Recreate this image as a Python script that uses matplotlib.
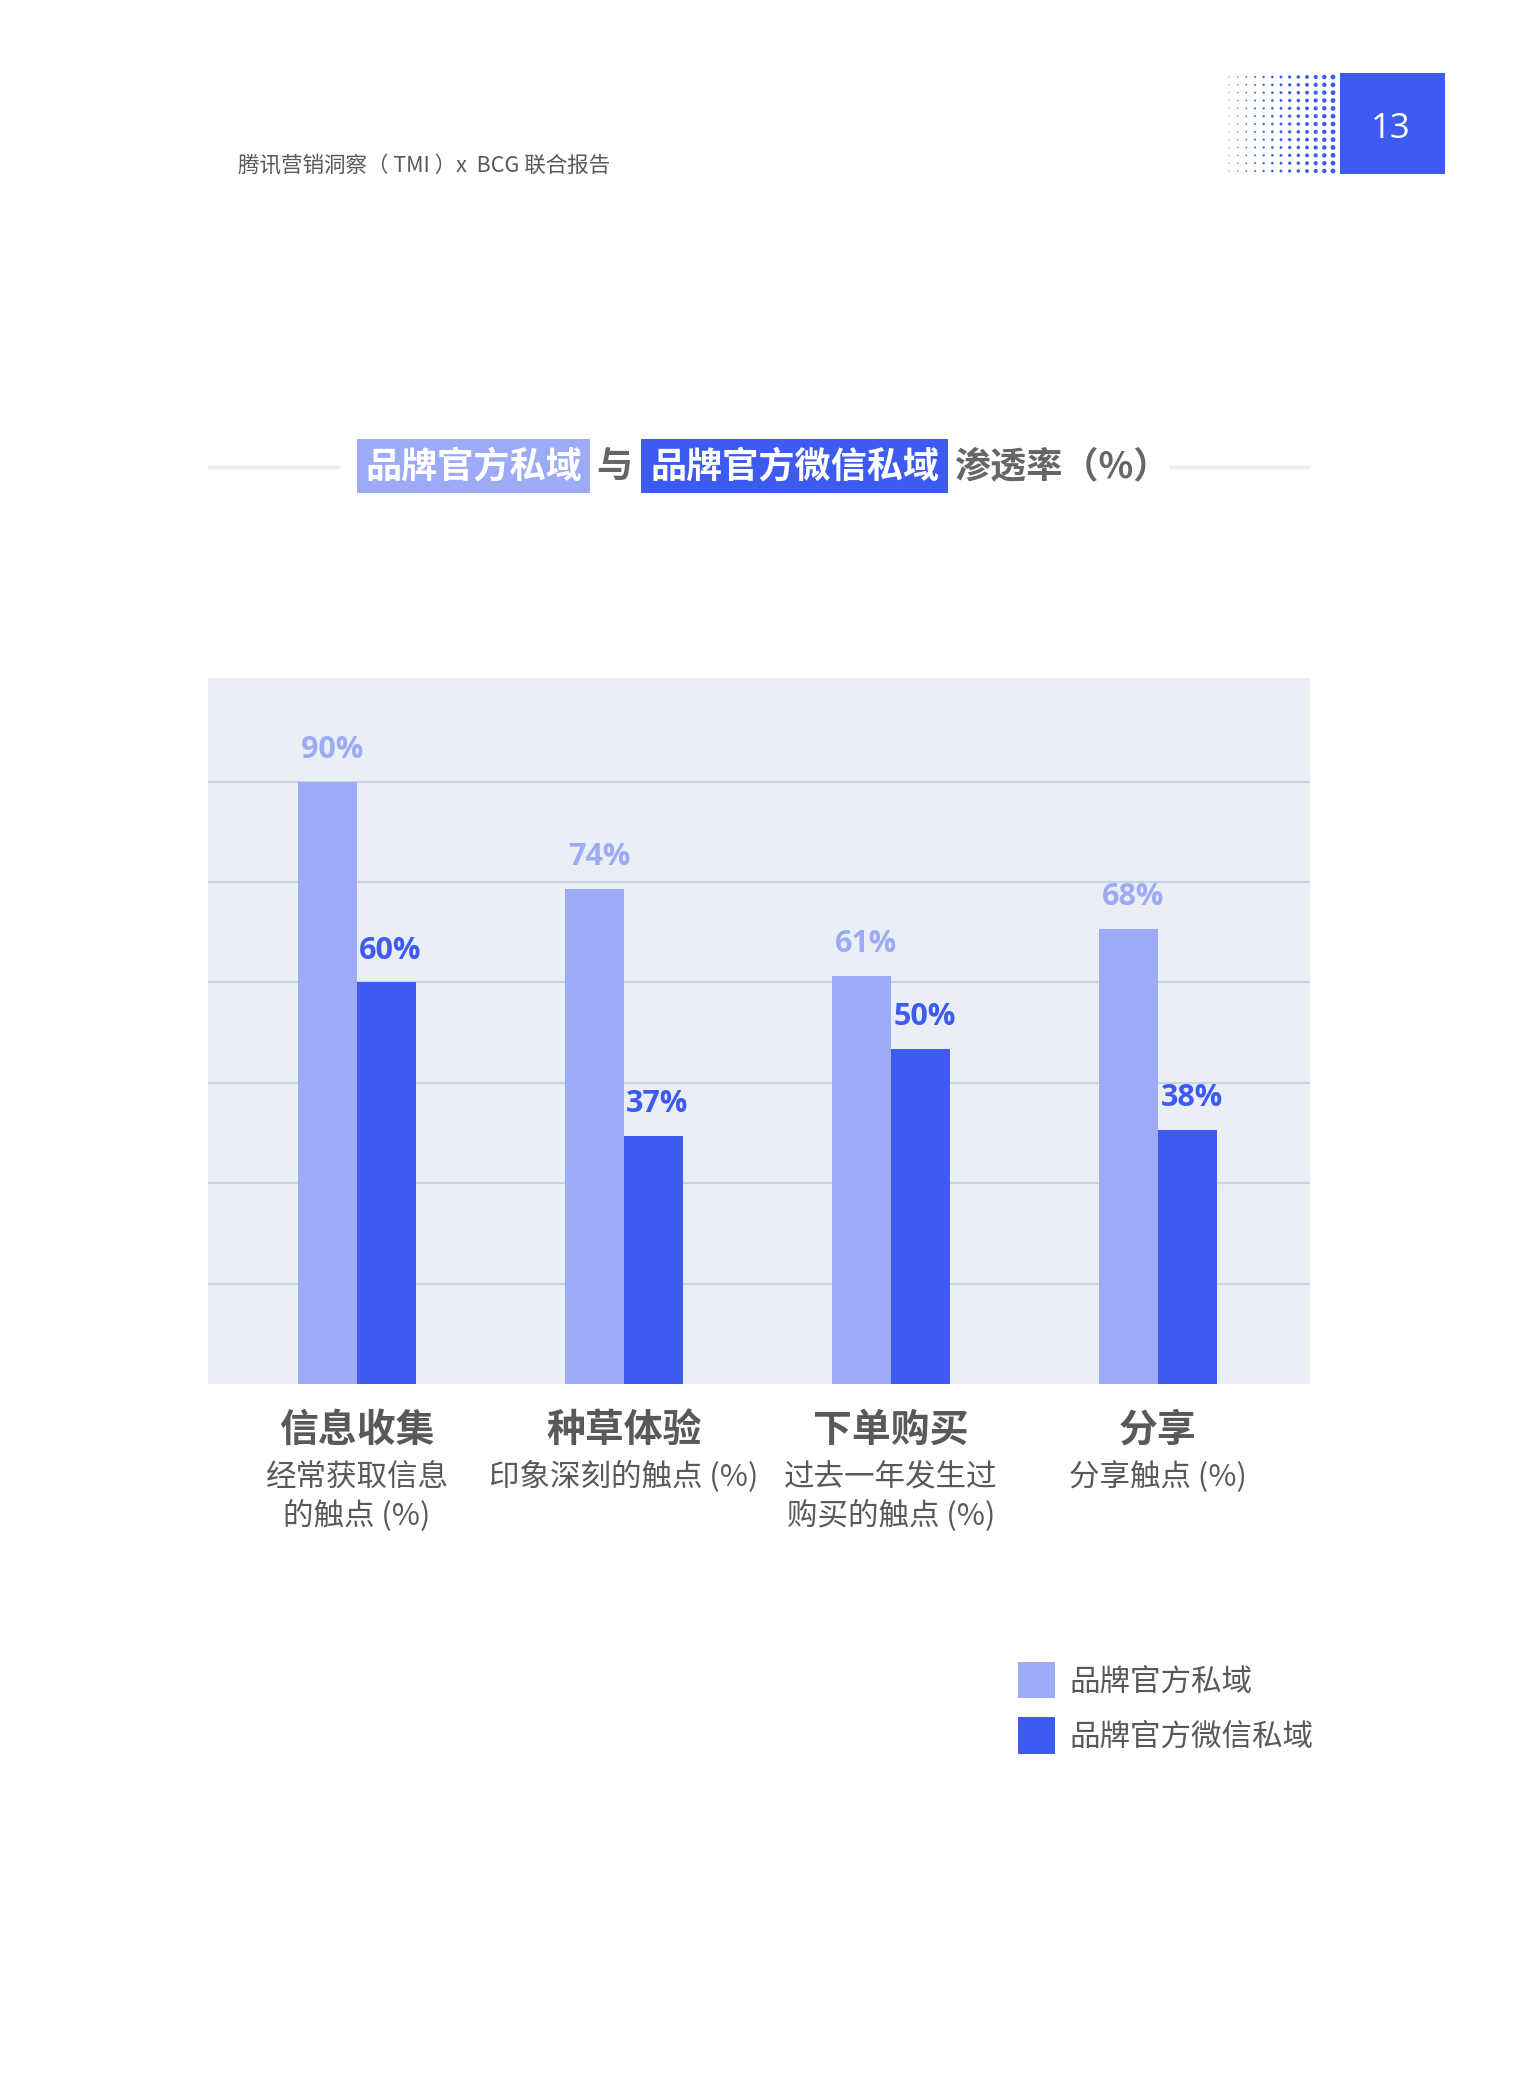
import numpy as np
import matplotlib.pyplot as plt
from matplotlib.patches import Rectangle
from matplotlib.transforms import blended_transform_factory

plt.rcParams['font.family'] = ['Noto Sans CJK SC', 'DejaVu Sans']

categories = ["信息收集", "种草体验", "下单购买", "分享"]
subtitles = [["经常获取信息", "的触点 (%)"],
             ["印象深刻的触点 (%)"],
             ["过去一年发生过", "购买的触点 (%)"],
             ["分享触点 (%)"]]
series = ["品牌官方私域", "品牌官方微信私域"]
official = [90, 74, 61, 68]
wechat = [60, 37, 50, 38]

light = "#9DABF6"
dark = "#3D5BF0"
grey = "#595959"

W, H = 1520, 2095
fig = plt.figure(figsize=(W / 100, H / 100), dpi=100)

# page overlay in pixel coordinates (for header, title, decorations)
page = fig.add_axes([0, 0, 1, 1], zorder=0)
page.set_xlim(0, W)
page.set_ylim(H, 0)
page.axis("off")

# header
page.text(238, 166, "腾讯营销洞察（ TMI ）x  BCG 联合报告", fontsize=15.5,
          color=grey, va="center", ha="left")
page.add_patch(Rectangle((1340, 73), 105, 101, color=dark, lw=0))
page.text(1391, 129, "13", fontsize=25, color="white", ha="center", va="center",
          family=["Open Sans", "DejaVu Sans"])
cols, rows = 13, 13
gx = np.linspace(1229, 1333, cols)
gy = np.linspace(77, 171, rows)
xx, yy = np.meshgrid(gx, gy)
sizes = np.meshgrid((np.linspace(1.0, 4.8, cols) * 0.72) ** 2, gy)[0]
page.scatter(xx.ravel(), yy.ravel(), s=sizes.ravel(), color=dark, lw=0)

# title
ty = 467
page.plot([208, 340], [ty, ty], color="#EDEDED", lw=2.5, solid_capstyle="butt")
page.plot([1169, 1310], [ty, ty], color="#EDEDED", lw=2.5, solid_capstyle="butt")
page.add_patch(Rectangle((357, 439), 233, 54, color=light, lw=0))
page.add_patch(Rectangle((641, 439), 307, 54, color=dark, lw=0))
page.text(473.5, ty, series[0], fontsize=26, fontweight="bold", color="white",
          ha="center", va="center")
page.text(614, ty, "与", fontsize=26, fontweight="bold", color="#666666",
          ha="center", va="center")
page.text(794.5, ty, series[1], fontsize=26, fontweight="bold", color="white",
          ha="center", va="center")
page.text(954, ty, "渗透率（%）", fontsize=26, fontweight="bold", color="#666666",
          ha="left", va="center")

# chart
left, right, top, bottom = 208, 1310, 678, 1384
ax = fig.add_axes([left / W, 1 - bottom / H, (right - left) / W, (bottom - top) / H],
                  zorder=1)
ax.set_facecolor("#EAEEF5")
x = np.arange(len(categories))
bw = 0.22
ax.bar(x - bw / 2, official, bw, color=light, label=series[0], zorder=2)
ax.bar(x + bw / 2, wechat, bw, color=dark, label=series[1], zorder=2)
ax.set_xlim(-0.558, 3.569)
ax.set_ylim(0, 105.5)
ax.set_yticks(np.arange(15, 91, 15))
ax.yaxis.grid(True, color="#C9D3E2", lw=1.5, zorder=1)
ax.tick_params(left=False, bottom=False, labelleft=False, labelbottom=False)
for s in ax.spines.values():
    s.set_visible(False)

for i in range(len(categories)):
    ax.annotate(f"{official[i]}%", (x[i] - bw / 2, official[i]), xytext=(3, 23),
                textcoords="offset points", ha="center", va="center",
                fontsize=22, fontweight="bold", color=light,
                family=["Open Sans", "DejaVu Sans"])
    ax.annotate(f"{wechat[i]}%", (x[i] + bw / 2, wechat[i]), xytext=(3, 23),
                textcoords="offset points", ha="center", va="center",
                fontsize=22, fontweight="bold", color=dark,
                family=["Open Sans", "DejaVu Sans"])

# category labels below the chart
tr = blended_transform_factory(ax.transData, page.transData)
for i, cat in enumerate(categories):
    ax.text(x[i], 1430, cat, transform=tr, fontsize=28, fontweight="bold",
            color=grey, ha="center", va="center", clip_on=False)
    for j, line in enumerate(subtitles[i]):
        ax.text(x[i], 1477 + j * 39, line, transform=tr, fontsize=22,
                color=grey, ha="center", va="center", clip_on=False)

leg = ax.legend(loc="upper left", bbox_to_anchor=(1018 / W, 1 - 1662 / H),
                bbox_transform=fig.transFigure, frameon=False, fontsize=22,
                handlelength=1.2, handleheight=1.45, handletextpad=0.5,
                labelspacing=0.62, borderpad=0, borderaxespad=0)
for t in leg.get_texts():
    t.set_color(grey)

fig.savefig("out.png", dpi=100, facecolor="white")
